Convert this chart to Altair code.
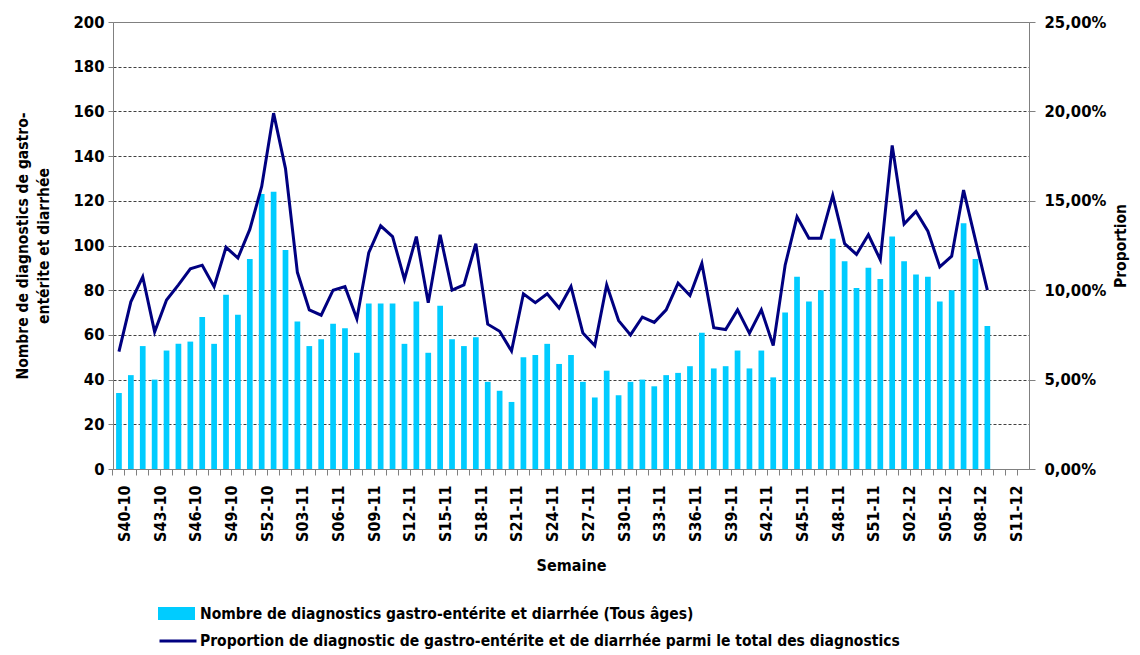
import json
import altair as alt
import pandas as pd

# ---- categories (semaines) ----
weeks = [
    "S40-10", "S41-10", "S42-10", "S43-10", "S44-10", "S45-10", "S46-10", "S47-10",
    "S48-10", "S49-10", "S50-10", "S51-10", "S52-10",
    "S01-11", "S02-11", "S03-11", "S04-11", "S05-11", "S06-11", "S07-11", "S08-11",
    "S09-11", "S10-11", "S11-11", "S12-11", "S13-11", "S14-11", "S15-11", "S16-11",
    "S17-11", "S18-11", "S19-11", "S20-11", "S21-11", "S22-11", "S23-11", "S24-11",
    "S25-11", "S26-11", "S27-11", "S28-11", "S29-11", "S30-11", "S31-11", "S32-11",
    "S33-11", "S34-11", "S35-11", "S36-11", "S37-11", "S38-11", "S39-11", "S40-11",
    "S41-11", "S42-11", "S43-11", "S44-11", "S45-11", "S46-11", "S47-11", "S48-11",
    "S49-11", "S50-11", "S51-11", "S52-11",
    "S01-12", "S02-12", "S03-12", "S04-12", "S05-12", "S06-12", "S07-12", "S08-12",
    "S09-12", "S10-12", "S11-12", "S12-12",
]

shown_labels = [
    "S40-10", "S43-10", "S46-10", "S49-10", "S52-10", "S03-11", "S06-11", "S09-11",
    "S12-11", "S15-11", "S18-11", "S21-11", "S24-11", "S27-11", "S30-11", "S33-11",
    "S36-11", "S39-11", "S42-11", "S45-11", "S48-11", "S51-11", "S02-12", "S05-12",
    "S08-12", "S11-12",
]

# ---- series ----
counts = [
    34, 42, 55, 40, 53, 56, 57, 68, 56, 78, 69, 94, 123, 124, 98, 66, 55, 58, 65, 63,
    52, 74, 74, 74, 56, 75, 52, 73, 58, 55, 59, 39, 35, 30, 50, 51, 56, 47, 51,
    39, 32, 44, 33, 39, 40, 37, 42, 43, 46, 61, 45, 46, 53, 45, 53, 41, 70, 86, 75,
    80, 103, 93, 81, 90, 85, 104, 93, 87, 86, 75, 80, 110, 94, 64,
]

proportion_pct = [
    6.56, 9.35, 10.75, 7.67, 9.45, 10.3, 11.2, 11.4, 10.2, 12.4, 11.8, 13.4, 15.8, 19.9,
    16.8, 11.0, 8.9, 8.6, 10.0, 10.2,
    8.4, 12.1, 13.6, 13.0, 10.6, 13.0, 9.3, 13.1, 10.0, 10.3, 12.6, 8.1, 7.7, 6.6, 9.8,
    9.3, 9.8, 9.0, 10.2,
    7.6, 6.9, 10.3, 8.3, 7.5, 8.5, 8.2, 8.9, 10.4, 9.7, 11.5, 7.9, 7.8, 8.9, 7.6, 8.9,
    6.9, 11.4, 14.1, 12.9,
    12.9, 15.3, 12.6, 12.0, 13.1, 11.7, 18.1, 13.7, 14.4, 13.3, 11.3, 11.9, 15.6, 12.8,
    10.0,
]

bar_label = "Nombre de diagnostics gastro-entérite et diarrhée (Tous âges)"
line_label = "Proportion de diagnostic de gastro-entérite et de diarrhée parmi le total des diagnostics"

left_ticks = [0, 20, 40, 60, 80, 100, 120, 140, 160, 180, 200]
right_ticks = [0, 0.05, 0.10, 0.15, 0.20, 0.25]

n = len(counts)
bars_df = pd.DataFrame({"semaine": weeks[:n], "nombre": counts, "serie": bar_label})
line_df = pd.DataFrame({
    "semaine": weeks[:len(proportion_pct)],
    "proportion": [p / 100 for p in proportion_pct],
    "serie": line_label,
})

FONT = "DejaVu Sans Condensed"
W, H = 916, 447
step = W / len(weeks)

x_scale = alt.Scale(domain=weeks, paddingInner=0, paddingOuter=0)
x_label_expr = "indexof(" + json.dumps(shown_labels) + ", datum.value) >= 0 ? datum.value : ''"
x_axis = alt.Axis(
    title="Semaine",
    labelAngle=270,
    bandPosition=0,
    labelOffset=step / 2,
    labelExpr=x_label_expr,
    labelOverlap=False,
    tickSize=6,
    labelPadding=10,
    labelFontSize=16,
    titleFontSize=16,
    titlePadding=16,
    grid=False,
)

bars = alt.Chart(bars_df).mark_bar(width=alt.RelativeBandSize(0.48)).encode(
    x=alt.X("semaine:N", scale=x_scale, sort=weeks, axis=x_axis),
    y=alt.Y(
        "nombre:Q",
        scale=alt.Scale(domain=[0, 200], nice=False),
        axis=alt.Axis(
            title=["Nombre de diagnostics de gastro-", "entérite et diarrhée"],
            values=left_ticks,
            tickSize=5,
            labelPadding=4,
            labelFontSize=16.5,
            titleFontSize=15.5,
            titleAngle=270,
            titlePadding=22,
            titleLineHeight=21,
            grid=True,
            gridColor="#404040",
            gridDash=[3, 2],
            gridOpacity={"condition": {"test": "datum.value <= 0 || datum.value >= 200", "value": 0}, "value": 1},
        ),
    ),
    fill=alt.Fill(
        "serie:N",
        scale=alt.Scale(range=["#00CCFF"]),
        legend=alt.Legend(
            title=None, orient="none", legendX=45, legendY=573,
            symbolType="M-1,-0.35H1V0.35H-1Z", symbolSize=1369,
            symbolStrokeWidth=0,
            labelFont=FONT, labelFontSize=15.5, labelFontWeight="bold",
            labelColor="black", labelOffset=5, labelLimit=1000, padding=0,
        ),
    ),
)

line = alt.Chart(line_df).mark_line(strokeWidth=3, strokeJoin="miter").encode(
    x=alt.X("semaine:N", scale=x_scale, sort=weeks, axis=x_axis),
    y=alt.Y(
        "proportion:Q",
        scale=alt.Scale(domain=[0, 0.25], nice=False),
        axis=alt.Axis(
            orient="right",
            title="Proportion",
            values=right_ticks,
            labelExpr="replace(format(datum.value, '.2%'), '.', ',')",
            tickSize=6,
            labelPadding=9,
            labelFontSize=16.5,
            titleFontSize=15.5,
            titleAngle=270,
            titleBaseline="top",
            titlePadding=8,
            grid=False,
        ),
    ),
    stroke=alt.Stroke(
        "serie:N",
        scale=alt.Scale(range=["#000080"]),
        legend=alt.Legend(
            title=None, orient="none", legendX=45, legendY=599,
            symbolType="stroke", symbolSize=1369, symbolStrokeWidth=3,
            labelFont=FONT, labelFontSize=15.5, labelFontWeight="bold",
            labelColor="black", labelOffset=2, labelLimit=1000, padding=0,
        ),
    ),
)

chart = (
    alt.layer(bars, line)
    .resolve_scale(y="independent")
    .properties(
        width=W,
        height=H,
        autosize=alt.AutoSizeParams(type="none"),
        padding={"left": 105, "top": 14, "right": 103, "bottom": 182},
        background="white",
    )
    .configure_view(stroke="#808080", strokeWidth=1)
    .configure_axis(
        labelFont=FONT,
        titleFont=FONT,
        labelFontWeight="bold",
        titleFontWeight="bold",
        labelColor="black",
        titleColor="black",
        domainColor="#808080",
        tickColor="#808080",
    )
)

chart.save("out.html", embed_options={"renderer": "svg", "actions": False})
